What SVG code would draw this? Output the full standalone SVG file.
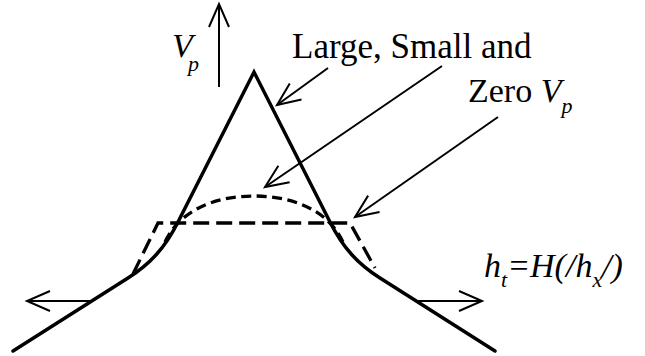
<svg xmlns="http://www.w3.org/2000/svg" width="645" height="356" viewBox="0 0 645 356">
<style>
.txt{font-family:"Liberation Serif","Times New Roman",serif;font-size:34px;fill:#000}
.big{font-size:35px}
.it{font-style:italic}
.sub{font-size:22px}
.thick{fill:none;stroke:#000;stroke-width:3.5;stroke-linejoin:miter;stroke-linecap:round}
.longdash{fill:none;stroke:#000;stroke-width:3.3;stroke-dasharray:16 7}
.shortdash{fill:none;stroke:#000;stroke-width:3.3;stroke-dasharray:10 5.5}
.thin{fill:none;stroke:#000;stroke-width:2;marker-end:url(#open)}
</style>
<defs>
<marker id="open" markerUnits="userSpaceOnUse" orient="auto" refX="0" refY="0" markerWidth="30" markerHeight="30" viewBox="-26 -13 30 26" overflow="visible">
<path d="M-23,-10 L0,0 L-23,10" fill="none" stroke="#000" stroke-width="2"/>
</marker>
</defs>
<rect width="645" height="356" fill="#fff"/>
<g id="profiles">
<path id="large" class="thick" d="M13,351 L128,278 C150,264 165,248 178,222 L254,72 L330,222 C343,248 358,264 380,278 L495,351"/>
<path id="small" class="shortdash" d="M165,242 C182,206 222,196 254,196 C286,196 326,206 343,242"/>
<path id="zero" class="longdash" d="M133,274 L158,223 L350,223 L375,268"/>
</g>
<g id="connectors">
<line class="thin" x1="219" y1="87" x2="219" y2="4"/>
<line class="thin" x1="328" y1="68" x2="277" y2="105"/>
<line class="thin" x1="442" y1="66" x2="265" y2="187"/>
<line class="thin" x1="498" y1="117" x2="355" y2="217"/>
<line class="thin" x1="90" y1="301" x2="27" y2="301"/>
<line class="thin" x1="418" y1="301" x2="482" y2="301"/>
</g>
<g id="labels">
<text class="txt big" x="292" y="58">Large, Small and</text>
<text class="txt" x="468" y="102">Zero <tspan class="it">V</tspan><tspan class="it sub" dy="11">p</tspan></text>
<text class="txt it" x="172" y="57">V</text>
<text class="txt it sub" x="188" y="71">p</text>
<text class="txt it" x="484" y="277">h<tspan class="sub" dy="10">t</tspan><tspan dy="-10">=H(/h</tspan><tspan class="sub" dy="10">x</tspan><tspan dy="-10">/)</tspan></text>
</g>
</svg>
